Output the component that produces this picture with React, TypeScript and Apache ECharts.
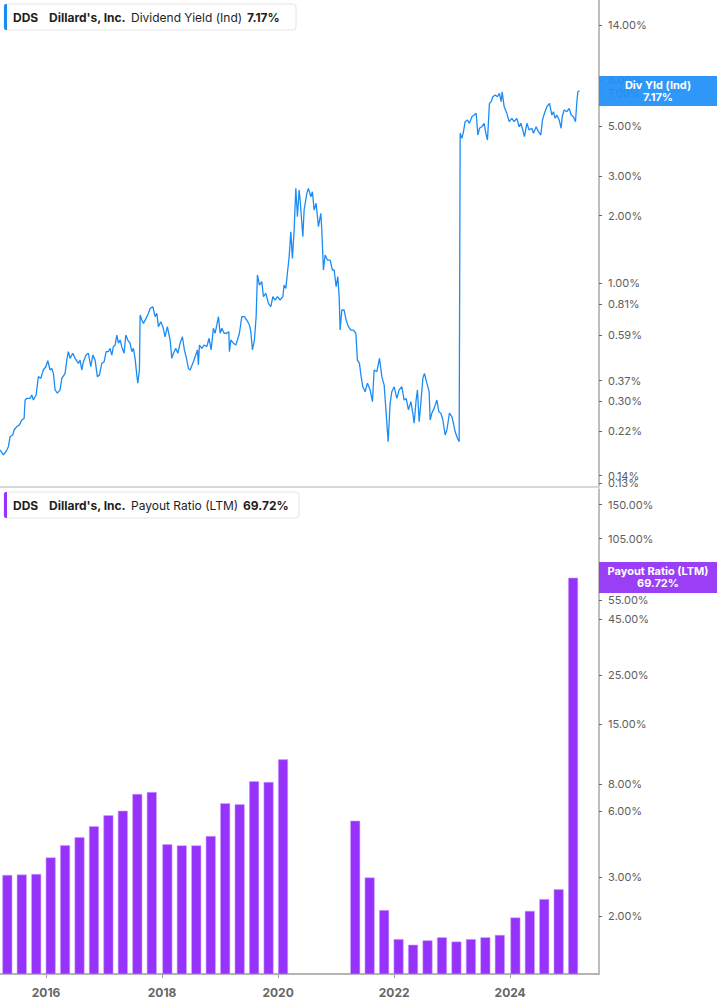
import React, { useEffect, useRef } from "react";
import * as echarts from "echarts";

// ---- Data ----
// Dividend Yield (Ind), % — dates as decimal years
const yieldYears = [
  2015.207, 2015.264, 2015.310, 2015.350, 2015.379, 2015.426, 2015.448, 2015.495, 2015.540, 2015.581,
  2015.621, 2015.638, 2015.667, 2015.724, 2015.753, 2015.781, 2015.828, 2015.867, 2015.909, 2015.953,
  2015.995, 2016.029, 2016.069, 2016.098, 2016.126, 2016.155, 2016.195, 2016.241, 2016.271, 2016.328,
  2016.357, 2016.384, 2016.414, 2016.460, 2016.500, 2016.557, 2016.586, 2016.615, 2016.643, 2016.690,
  2016.729, 2016.771, 2016.805, 2016.845, 2016.884, 2016.919, 2016.960, 2017.000, 2017.035, 2017.074,
  2017.103, 2017.133, 2017.160, 2017.190, 2017.219, 2017.247, 2017.276, 2017.305, 2017.345, 2017.374,
  2017.409, 2017.448, 2017.478, 2017.505, 2017.534, 2017.564, 2017.581, 2017.609, 2017.621, 2017.650,
  2017.678, 2017.724, 2017.764, 2017.793, 2017.840, 2017.879, 2017.909, 2017.936, 2017.978, 2018.012,
  2018.052, 2018.091, 2018.138, 2018.167, 2018.195, 2018.236, 2018.271, 2018.310, 2018.350, 2018.384,
  2018.414, 2018.453, 2018.483, 2018.529, 2018.569, 2018.609, 2018.626, 2018.643, 2018.684, 2018.724,
  2018.771, 2018.810, 2018.845, 2018.884, 2018.914, 2018.943, 2018.971, 2019.000, 2019.029, 2019.069,
  2019.116, 2019.150, 2019.160, 2019.185, 2019.229, 2019.271, 2019.298, 2019.333, 2019.374, 2019.419,
  2019.460, 2019.505, 2019.529, 2019.557, 2019.591, 2019.621, 2019.643, 2019.678, 2019.719, 2019.747,
  2019.788, 2019.833, 2019.874, 2019.909, 2019.948, 2019.988, 2020.034, 2020.081, 2020.103, 2020.133,
  2020.160, 2020.190, 2020.219, 2020.246, 2020.276, 2020.305, 2020.333, 2020.362, 2020.379, 2020.426,
  2020.448, 2020.495, 2020.522, 2020.564, 2020.591, 2020.621, 2020.655, 2020.695, 2020.736, 2020.753,
  2020.781, 2020.810, 2020.850, 2020.897, 2020.936, 2020.966, 2021.000, 2021.029, 2021.052, 2021.069,
  2021.098, 2021.138, 2021.172, 2021.212, 2021.253, 2021.298, 2021.340, 2021.367, 2021.402, 2021.431,
  2021.460, 2021.500, 2021.540, 2021.586, 2021.626, 2021.655, 2021.702, 2021.747, 2021.788, 2021.828,
  2021.862, 2021.897, 2021.931, 2021.960, 2022.000, 2022.047, 2022.086, 2022.133, 2022.172, 2022.207,
  2022.247, 2022.288, 2022.322, 2022.345, 2022.379, 2022.402, 2022.431, 2022.460, 2022.495, 2022.522,
  2022.564, 2022.603, 2022.621, 2022.650, 2022.690, 2022.736, 2022.771, 2022.805, 2022.840, 2022.879,
  2022.909, 2022.953, 2022.995, 2023.022, 2023.052, 2023.091, 2023.121, 2023.138, 2023.167, 2023.195,
  2023.224, 2023.264, 2023.298, 2023.340, 2023.379, 2023.414, 2023.443, 2023.471, 2023.512, 2023.552,
  2023.581, 2023.609, 2023.643, 2023.672, 2023.702, 2023.741, 2023.781, 2023.815, 2023.845, 2023.862,
  2023.897, 2023.943, 2023.983, 2024.029, 2024.069, 2024.116, 2024.155, 2024.184, 2024.219, 2024.246,
  2024.288, 2024.328, 2024.374, 2024.402, 2024.448, 2024.488, 2024.529, 2024.557, 2024.591, 2024.633,
  2024.678, 2024.719, 2024.747, 2024.776, 2024.805, 2024.845, 2024.879, 2024.897, 2024.931, 2024.978,
  2025.017, 2025.052, 2025.091, 2025.126, 2025.150, 2025.167, 2025.195,
];
const yieldValues = [
  0.182, 0.173, 0.179, 0.188, 0.208, 0.212, 0.223, 0.231, 0.235, 0.247,
  0.251, 0.303, 0.308, 0.308, 0.319, 0.303, 0.319, 0.385, 0.378, 0.412,
  0.426, 0.453, 0.412, 0.419, 0.398, 0.336, 0.325, 0.336, 0.378, 0.398,
  0.456, 0.497, 0.464, 0.489, 0.464, 0.441, 0.456, 0.412, 0.448, 0.480,
  0.489, 0.426, 0.480, 0.456, 0.385, 0.391, 0.441, 0.448, 0.497, 0.497,
  0.514, 0.480, 0.523, 0.532, 0.589, 0.542, 0.560, 0.523, 0.489, 0.589,
  0.560, 0.542, 0.497, 0.514, 0.464, 0.391, 0.360, 0.412, 0.723, 0.687,
  0.664, 0.699, 0.736, 0.774, 0.787, 0.711, 0.736, 0.642, 0.675, 0.642,
  0.579, 0.642, 0.560, 0.464, 0.489, 0.514, 0.489, 0.542, 0.579, 0.506,
  0.472, 0.419, 0.412, 0.441, 0.472, 0.506, 0.434, 0.532, 0.514, 0.532,
  0.523, 0.570, 0.506, 0.631, 0.600, 0.653, 0.711, 0.600, 0.631, 0.600,
  0.600, 0.610, 0.497, 0.560, 0.542, 0.532, 0.560, 0.600, 0.711, 0.711,
  0.687, 0.653, 0.610, 0.506, 0.560, 0.711, 1.089, 0.983, 1.017, 0.872,
  0.903, 0.815, 0.787, 0.872, 0.843, 0.872, 0.843, 0.872, 0.983, 0.950,
  1.108, 1.313, 1.695, 1.291, 1.725, 2.642, 1.976, 2.597, 2.345, 1.611,
  2.117, 2.510, 2.642, 2.425, 2.552, 2.117, 2.267, 1.784, 2.046, 1.725,
  1.146, 1.336, 1.269, 1.269, 1.146, 1.146, 0.966, 1.070, 0.872, 0.620,
  0.761, 0.761, 0.687, 0.642, 0.620, 0.620, 0.600, 0.456, 0.441, 0.385,
  0.347, 0.330, 0.360, 0.336, 0.298, 0.412, 0.405, 0.464, 0.385, 0.353,
  0.265, 0.198, 0.293, 0.330, 0.347, 0.308, 0.336, 0.347, 0.303, 0.308,
  0.274, 0.298, 0.265, 0.239, 0.303, 0.336, 0.243, 0.293, 0.378, 0.398,
  0.360, 0.330, 0.247, 0.265, 0.279, 0.303, 0.269, 0.265, 0.247, 0.212,
  0.223, 0.265, 0.256, 0.239, 0.219, 0.205, 0.198, 4.639, 4.408, 4.715,
  5.224, 5.316, 5.139, 5.497, 5.594, 5.692, 4.558, 4.883, 4.963, 5.139,
  4.639, 4.332, 6.303, 6.409, 6.745, 6.862, 6.745, 6.984, 6.409, 7.099,
  6.088, 5.692, 5.224, 5.408, 5.224, 5.408, 4.963, 5.139, 4.797, 4.480,
  5.139, 4.797, 4.883, 4.639, 4.963, 4.715, 4.558, 5.316, 5.692, 6.088,
  6.303, 5.594, 5.785, 5.408, 5.594, 5.316, 4.883, 5.497, 5.888, 5.785,
  5.990, 5.594, 5.497, 5.224, 6.409, 7.099, 7.17,
];

// Payout Ratio (LTM), % — fiscal quarter ends
const payoutDates = [
  "2015-05-02", "2015-08-01", "2015-10-31", "2016-01-30",
  "2016-04-30", "2016-07-30", "2016-10-29", "2017-01-28",
  "2017-04-29", "2017-07-29", "2017-10-28", "2018-02-03",
  "2018-05-05", "2018-08-04", "2018-11-03", "2019-02-02",
  "2019-05-04", "2019-08-03", "2019-11-02", "2020-02-01",
  "2020-05-02", "2020-08-01", "2020-10-31", "2021-01-30",
  "2021-05-01", "2021-07-31", "2021-10-30", "2022-01-29",
  "2022-04-30", "2022-07-30", "2022-10-29", "2023-01-28",
  "2023-04-29", "2023-07-29", "2023-10-28", "2024-02-03",
  "2024-05-04", "2024-08-03", "2024-11-02", "2025-02-01",
];
const payoutValues: (number | null)[] = [
  3.08, 3.09, 3.11, 3.70,
  4.21, 4.58, 5.13, 5.76,
  6.04, 7.20, 7.35, 4.25,
  4.20, 4.20, 4.63, 6.53,
  6.46, 8.23, 8.17, 10.36,
  null, null, null, null,
  5.44, 3.00, 2.13, 1.57,
  1.48, 1.55, 1.60, 1.53,
  1.57, 1.60, 1.64, 1.97,
  2.11, 2.39, 2.65, 69.72,
];

// Tick labels (order chosen so the two overlapping low labels are not at the list ends)
const topTicks = [0.13, 14, 8, 7, 5, 3, 2, 1, 0.81, 0.59, 0.37, 0.3, 0.22, 0.14];
const bottomTicks = [150, 105, 55, 45, 25, 15, 8, 6, 3, 2];
const yearTicks = [2016, 2018, 2020, 2022, 2024];

const xRange = ["2015-03-17", "2025-07-14"];
const topRange = [0.1245, 18.14];
const bottomRange = [1.088, 176.9];

// ---- helpers ----
const BLUE = "#1c8cf5";
const PURPLE = "#9632fa";
const FONT = "Inter, 'Noto Sans', sans-serif";

// ISO date -> decimal year (unit conversion for the value-type time axis)
function isoToYear(s: string) {
  const [y, m, d] = s.split("-").map(Number);
  const ts = Date.UTC(y, m - 1, d);
  const a = Date.UTC(y, 0, 1);
  const b = Date.UTC(y + 1, 0, 1);
  return y + (ts - a) / (b - a);
}
const pctFmt = (v: number) => Math.pow(10, v).toFixed(2) + "%";

export default function App() {
  const ref = useRef<HTMLDivElement>(null);

  useEffect(() => {
    if (!ref.current) return;
    const chart = echarts.init(ref.current, undefined, { renderer: "svg" });

    const lineData = yieldYears.map((t, i) => [t, Math.log10(yieldValues[i])]);
    const barData: number[][] = [];
    payoutDates.forEach((d, i) => {
      const v = payoutValues[i];
      if (v != null) barData.push([isoToYear(d), Math.log10(v)]);
    });

    const xMin = isoToYear(xRange[0]);
    const xMax = isoToYear(xRange[1]);

    const legendTexts = (y: number, color: string, metric: string, value: string, boxW: number, valueX: number) => [
      {
        type: "rect",
        shape: { x: 4, y: y, width: boxW, height: 26, r: 3 },
        style: { fill: "#ffffff", stroke: "#e4e4e4", lineWidth: 1 },
        z: 100,
      },
      {
        type: "rect",
        shape: { x: 4, y: y, width: 3, height: 26, r: [2, 0, 0, 2] },
        style: { fill: color },
        z: 101,
      },
      {
        type: "text",
        x: 13,
        y: y + 13,
        style: { text: "DDS", font: `bold 12px ${FONT}`, fill: "#1e1e1e", verticalAlign: "middle" },
        z: 101,
      },
      {
        type: "text",
        x: 49,
        y: y + 13,
        style: { text: "Dillard's, Inc.", font: `bold 12px ${FONT}`, fill: "#1e1e1e", verticalAlign: "middle" },
        z: 101,
      },
      {
        type: "text",
        x: 131,
        y: y + 13,
        style: { text: metric, font: `normal 12px ${FONT}`, fill: "#1e1e1e", verticalAlign: "middle" },
        z: 101,
      },
      {
        type: "text",
        x: valueX,
        y: y + 13,
        style: { text: value, font: `bold 12px ${FONT}`, fill: "#1e1e1e", verticalAlign: "middle" },
        z: 101,
      },
    ];

    const valueBox = (y: number, h: number, color: string, l1: string, l2: string) => [
      {
        type: "rect",
        shape: { x: 599, y: y, width: 118, height: h },
        style: { fill: color, opacity: 0.93 },
        z: 100,
      },
      {
        type: "text",
        x: 658,
        y: y + 9,
        style: { text: l1, font: `bold 11px ${FONT}`, fill: "#ffffff", align: "center", verticalAlign: "middle" },
        z: 101,
      },
      {
        type: "text",
        x: 658,
        y: y + 21,
        style: { text: l2, font: `bold 11px ${FONT}`, fill: "#ffffff", align: "center", verticalAlign: "middle" },
        z: 101,
      },
    ];

    const yAxisCommon = (gridIndex: number, range: number[], ticks: number[]) => ({
      type: "value",
      gridIndex,
      position: "right",
      min: Math.log10(range[0]),
      max: Math.log10(range[1]),
      axisLine: { show: true, lineStyle: { color: "#a8a8a8", width: 1.5 } },
      axisTick: {
        show: true,
        customValues: ticks.map((v) => Math.log10(v)),
        length: 3,
        lineStyle: { color: "#666", width: 1 },
      },
      axisLabel: {
        show: true,
        customValues: ticks.map((v) => Math.log10(v)),
        formatter: pctFmt,
        hideOverlap: false,
        color: "#5e5e5e",
        fontSize: 11,
        fontFamily: FONT,
        margin: 9,
      },
      splitLine: { show: false },
    });

    const option: any = {
      animation: false,
      backgroundColor: "#ffffff",
      textStyle: { fontFamily: FONT },
      grid: [
        { left: 0, right: 118, top: 0, height: 487 },
        { left: 0, right: 118, top: 489, bottom: 31 },
      ],
      xAxis: [
        {
          type: "value",
          gridIndex: 0,
          min: xMin,
          max: xMax,
          axisLine: { show: true, onZero: false, lineStyle: { color: "#d8d8d8", width: 2 } },
          axisTick: { show: false },
          axisLabel: { show: false },
          splitLine: { show: false },
        },
        {
          type: "value",
          gridIndex: 1,
          min: xMin,
          max: xMax,
          axisLine: { show: true, onZero: false, lineStyle: { color: "#b4b4b4", width: 2 } },
          axisTick: {
            show: true,
            customValues: yearTicks,
            length: 4,
            lineStyle: { color: "#9a9a9a", width: 1 },
          },
          axisLabel: {
            show: true,
            customValues: yearTicks,
            formatter: (v: number) => String(Math.round(v)),
            color: "#666666",
            fontWeight: "bold",
            fontSize: 12,
            fontFamily: FONT,
            margin: 12,
          },
          splitLine: { show: false },
        },
      ],
      yAxis: [yAxisCommon(0, topRange, topTicks), yAxisCommon(1, bottomRange, bottomTicks)],
      series: [
        {
          name: "Dividend Yield (Ind)",
          type: "line",
          xAxisIndex: 0,
          yAxisIndex: 0,
          data: lineData,
          showSymbol: false,
          symbol: "none",
          lineStyle: { color: BLUE, width: 1.3 },
          itemStyle: { color: BLUE },
          clip: true,
        },
        {
          name: "Payout Ratio (LTM)",
          type: "bar",
          xAxisIndex: 1,
          yAxisIndex: 1,
          data: barData,
          barWidth: 10,
          clip: true,
          itemStyle: { color: PURPLE, borderColor: "rgba(205,165,255,0.9)", borderWidth: 0.6 },
        },
      ],
      graphic: [
        ...legendTexts(4, BLUE, "Dividend Yield (Ind)", "7.17%", 292, 247),
        ...legendTexts(492, PURPLE, "Payout Ratio (LTM)", "69.72%", 295, 243),
        ...valueBox(76, 30, "#1f8ff7", "Div Yld (Ind)", "7.17%"),
        ...valueBox(562, 31, "#9230f5", "Payout Ratio (LTM)", "69.72%"),
      ],
    };

    chart.setOption(option);
    return () => chart.dispose();
  }, []);

  return (
    <div
      ref={ref}
      style={{ position: "fixed", left: 0, top: 0, width: 717, height: 1005, background: "#fff" }}
    />
  );
}
